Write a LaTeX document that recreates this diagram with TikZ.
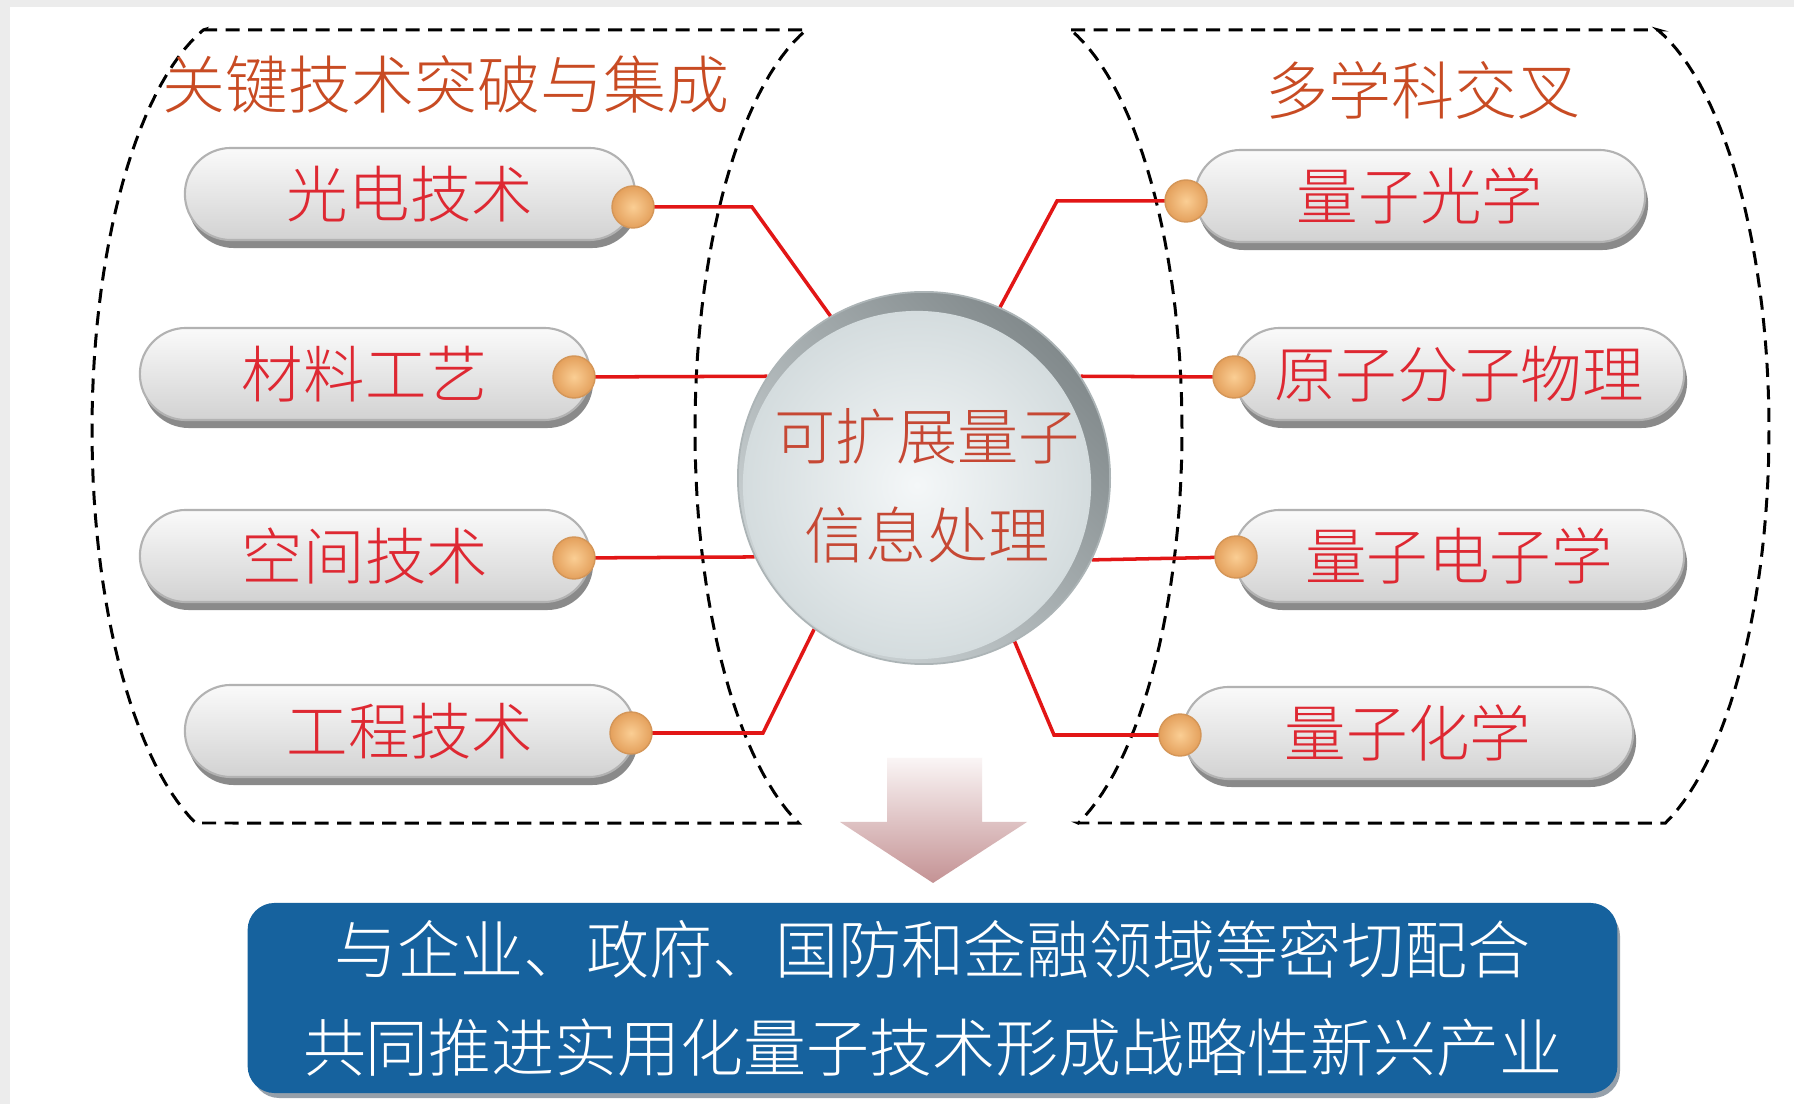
\documentclass[tikz,border=0pt]{standalone}
\usepackage{fontspec}
\IfFontExistsTF{Noto Sans CJK SC Light}
  {\setmainfont{Noto Sans CJK SC Light}}
  {\setmainfont{Noto Sans CJK SC}}
\usetikzlibrary{shapes.misc}
\pgfdeclarelayer{back}
\pgfsetlayers{back,main}
\definecolor{bggrey}{RGB}{236,236,236}
\definecolor{titlec}{RGB}{200,75,35}
\definecolor{pilltext}{RGB}{222,40,50}
\definecolor{circtext}{RGB}{198,72,52}
\definecolor{linered}{RGB}{226,22,22}
\definecolor{boxblue}{RGB}{22,98,158}
\definecolor{pilltop}{RGB}{250,250,250}
\definecolor{pillbot}{RGB}{210,210,210}
\definecolor{pilledge}{RGB}{178,178,178}
\definecolor{pillshade}{RGB}{138,138,138}
\definecolor{dotin}{RGB}{250,206,148}
\definecolor{dotout}{RGB}{228,160,92}
\definecolor{dotedge}{RGB}{212,150,88}
\definecolor{rimdark}{RGB}{130,138,140}
\definecolor{rimlight}{RGB}{205,212,214}
\definecolor{diskin}{RGB}{244,247,248}
\definecolor{diskout}{RGB}{212,220,222}
\definecolor{arrtop}{RGB}{250,245,245}
\definecolor{arrbot}{RGB}{196,146,148}
\newcommand\fsz[2]{\fontsize{#1}{#2}\selectfont}
\newcommand\mkpill[4]{%
  \node[pillshadow, xshift=0.03cm, yshift=-0.08cm] at (#2,#3) {};
  \node[pill] (#1) at (#2,#3) {#4};}
\begin{document}
\begin{tikzpicture}[x=0.01cm, y=-0.01cm,
  pill/.style={rounded rectangle, minimum width=4.5cm, minimum height=0.92cm,
    inner sep=0pt, draw=pilledge, line width=0.6pt,
    top color=pilltop, bottom color=pillbot, text=pilltext, font=\fsz{17.5pt}{20pt}},
  pillshadow/.style={rounded rectangle, minimum width=4.5cm, minimum height=0.92cm,
    inner sep=0pt, fill=pillshade},
  dotn/.style={circle, minimum size=0.42cm, inner sep=0pt, draw=dotedge, line width=0.4pt,
    inner color=dotin, outer color=dotout},
  conn/.style={draw=linered, line width=1pt},
  dashln/.style={draw=black, line width=0.85pt, dash pattern=on 4pt off 2.4pt},
  titlet/.style={text=titlec, font=\fsz{17.9pt}{20pt}, inner sep=0pt},
]
\useasboundingbox (0,0) rectangle (1794,1104);

% ---------- pills ----------
\mkpill{p1}{410}{194}{光电技术}
\mkpill{p2}{365}{374}{材料工艺}
\mkpill{p3}{365}{556}{空间技术}
\mkpill{p4}{410}{731}{工程技术}
\mkpill{q1}{1420}{196}{量子光学}
\mkpill{q2}{1459}{374}{原子分子物理}
\mkpill{q3}{1459}{556}{量子电子学}
\mkpill{q4}{1408}{733}{量子化学}

% ---------- dots ----------
\node[dotn] (d1) at (633,207) {};
\node[dotn] (d2) at (574,377) {};
\node[dotn] (d3) at (574,558) {};
\node[dotn] (d4) at (631,733) {};
\node[dotn] (e1) at (1186,201) {};
\node[dotn] (e2) at (1234,377) {};
\node[dotn] (e3) at (1236,557) {};
\node[dotn] (e4) at (1180,735) {};

% ---------- central disc ----------
\coordinate (cc) at (924,478);
\coordinate (ci) at (917,485);
\shade[top color=rimdark, bottom color=rimlight, shading angle=-45] (cc) circle[radius=1.86cm];
\shade[inner color=diskin, outer color=diskout] (ci) circle[radius=1.74cm];
\draw[line width=0.5pt, draw={rgb,255:red,172;green,180;blue,182}] (cc) circle[radius=1.86cm];
\node[circle, minimum size=3.72cm, inner sep=0pt] (core) at (cc) {};
\node[text=circtext, font=\fsz{17.4pt}{28.2pt}, align=center, inner sep=0pt] (coretext) at (927,486) {可扩展量子\\信息处理};

% ---------- titles ----------
\node[titlet] (t1) at (446,84) {关键技术突破与集成};
\node[titlet] (t2) at (1423,90) {多学科交叉};

% ---------- arrow ----------
\shade[top color=arrtop, bottom color=arrbot] (887,758) -- (982,758) -- (982,822) -- (1027,822)
  -- (933,883) -- (840,822) -- (887,822) -- cycle;

% ---------- bottom box ----------
\fill[fill={rgb,255:red,150;green,160;blue,170}, rounded corners=0.27cm] (252,909) rectangle (1620,1098);
\node[fill=boxblue, rounded corners=0.27cm, minimum width=13.69cm, minimum height=1.90cm,
  inner sep=0pt, text=white, align=center, font=\fsz{17.9pt}{27.9pt}] (goal) at (932.5,998)
  {与企业、政府、国防和金融领域等密切配合\\共同推进实用化量子技术形成战略性新兴产业};

% ---------- background layer ----------
\begin{pgfonlayer}{back}
\fill[bggrey] (0,0) rectangle (1794,1104);
\fill[white] (10,7) rectangle (1794,1104);
% dashed groups
\draw[dashln] (203,30) -- (806,30)
  -- plot[domain=252.3:110.6, samples=60] ({855+160*cos(\x)},{430+420*sin(\x)})
  -- (196,823)
  -- plot[domain=110.6:252.3, samples=60] ({252+160*cos(\x)},{430+420*sin(\x)}) -- cycle;
\draw[dashln] (1071,30) -- (1658,30)
  -- plot[domain=-72.3:69.4, samples=60] ({1609+160*cos(\x)},{430+420*sin(\x)})
  -- (1078,823)
  -- plot[domain=69.4:-72.3, samples=60] ({1022+160*cos(\x)},{430+420*sin(\x)}) -- cycle;
% connectors
\coordinate (k1) at (752,207);
\coordinate (k4) at (763,733);
\coordinate (m1) at (1057,201);
\coordinate (m4) at (1054,735);
\draw[conn] (d1.center) -- (k1) -- (core.120);
\draw[conn] (d2.center) -- (core.147);
\draw[conn] (d3.center) -- (core.205.5);
\draw[conn] (d4.center) -- (k4) -- (core.234);
\draw[conn] (e1.center) -- (m1) -- (core.66);
\draw[conn] (e2.center) -- (core.33);
\draw[conn] (e3.center) -- (core.334.5);
\draw[conn] (e4.center) -- (m4) -- (core.299);
\end{pgfonlayer}
\end{tikzpicture}
\end{document}
